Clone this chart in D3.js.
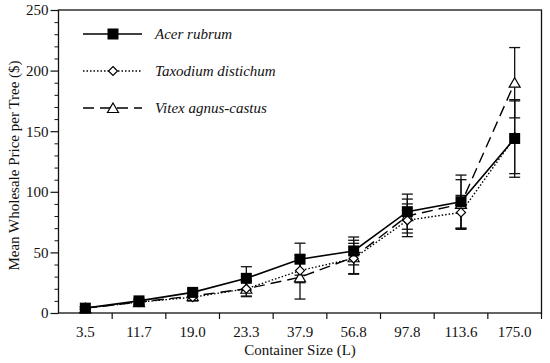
<!DOCTYPE html>
<html><head><meta charset="utf-8">
<script src="https://cdn.jsdelivr.net/npm/d3@7"></script>
<style>body{margin:0;background:#fff}svg{display:block}text{font-family:"Liberation Serif","Times New Roman",serif;fill:#111}</style>
</head><body><svg id="c" width="550" height="363"></svg>
<script>
const categories = ["3.5","11.7","19.0","23.3","37.9","56.8","97.8","113.6","175.0"];
const seriesNames = ["Acer rubrum","Taxodium distichum","Vitex agnus-castus"];
const acerMean = [4, 10, 17, 28.6, 44.4, 51.2, 83.6, 91.8, 144];
const acerErr  = [1, 2, 3, 9.6, 13.2, 11.5, 14.5, 22, 32];
const taxoMean = [4, 9, 13, 20, 35, 45, 76.5, 83, 145];
const taxoErr  = [1, 2, 3, 6, 10, 12.5, 13.5, 14, 30];
const vitexMean = [4, 9, 14, 20, 29.5, 46, 80, 90, 190];
const vitexErr  = [1, 2, 3, 6.5, 18, 14, 14, 20, 29];
const yTicks = [0,50,100,150,200,250];

const svg = d3.select("#c");
const L=58.5, R=541.5, T=10, B=313;
const x = d3.scaleBand().domain(categories).range([L,R]).padding(0);
const y = d3.scaleLinear().domain([0,250]).range([B,T]);
const cx = c => x(c)+x.bandwidth()/2;

// frame
svg.append("rect").attr("x",L).attr("y",T).attr("width",R-L).attr("height",B-T)
  .attr("fill","none").attr("stroke","#111").attr("stroke-width",1.3);

// y axis
const yAx = svg.append("g").attr("transform",`translate(${L},0)`)
  .call(d3.axisLeft(y).tickValues(yTicks).tickSize(8).tickPadding(2));
yAx.select(".domain").remove();
yAx.selectAll("text").style("font-size","15px").attr("fill","#111");
yAx.selectAll("line").attr("stroke","#111").attr("stroke-width",1.2);
const yMinor = svg.append("g").attr("transform",`translate(${L},0)`)
  .call(d3.axisLeft(y).tickValues(d3.range(0,251,10).filter(v=>v%50)).tickSize(4).tickFormat(""));
yMinor.select(".domain").remove();
yMinor.selectAll("line").attr("stroke","#111").attr("stroke-width",1);

// x axis: ticks at category boundaries
const xAx = svg.append("g").attr("transform",`translate(0,${B})`);
const bounds = categories.map(c=>x(c)).slice(1).concat([R]);
xAx.selectAll("line").data(bounds).join("line")
  .attr("x1",d=>d).attr("x2",d=>d).attr("y1",0).attr("y2",6)
  .attr("stroke","#111").attr("stroke-width",1.2);
xAx.selectAll("text").data(categories).join("text")
  .attr("x",d=>cx(d)).attr("y",24).attr("text-anchor","middle")
  .style("font-size","15px").text(d=>d);

// titles
svg.append("text").attr("x",(L+R)/2).attr("y",355).attr("text-anchor","middle")
  .style("font-size","15px").text("Container Size (L)");
svg.append("text").attr("transform",`translate(19,${(T+B)/2+4}) rotate(-90)`)
  .attr("text-anchor","middle").style("font-size","15px").text("Mean Wholesale Price per Tree ($)");

const series = [
  {name:seriesNames[0], mean:acerMean, err:acerErr, dash:null, sym:"square"},
  {name:seriesNames[1], mean:taxoMean, err:taxoErr, dash:"1.5,2", sym:"diamond"},
  {name:seriesNames[2], mean:vitexMean, err:vitexErr, dash:"11,6", sym:"triangle"}
];

function marker(g, sym, px, py){
  if(sym==="square") g.append("rect").attr("x",px-5.5).attr("y",py-5.5).attr("width",11).attr("height",11).attr("fill","#000");
  else if(sym==="diamond") g.append("path").attr("d",`M${px},${py-4.5}L${px+4.5},${py}L${px},${py+4.5}L${px-4.5},${py}Z`).attr("fill","#fff").attr("stroke","#000").attr("stroke-width",1.2);
  else g.append("path").attr("d",`M${px},${py-5}L${px+5.5},${py+4.5}L${px-5.5},${py+4.5}Z`).attr("fill","#fff").attr("stroke","#000").attr("stroke-width",1.2);
}

const line = d3.line().x((d,i)=>cx(categories[i])).y(d=>y(d));
// error bars
series.forEach(s=>{
  const g = svg.append("g");
  s.mean.forEach((m,i)=>{
    const px=cx(categories[i]), hi=y(m+s.err[i]), lo=y(m-s.err[i]);
    g.append("line").attr("x1",px).attr("x2",px).attr("y1",hi).attr("y2",lo).attr("stroke","#111").attr("stroke-width",1.3);
    [hi,lo].forEach(v=>g.append("line").attr("x1",px-5.5).attr("x2",px+5.5).attr("y1",v).attr("y2",v).attr("stroke","#111").attr("stroke-width",1.3));
  });
});
// lines
series.forEach(s=>{
  svg.append("path").attr("d",line(s.mean)).attr("fill","none").attr("stroke","#000")
    .attr("stroke-width",s.sym==="square"?1.6:1.4).attr("stroke-dasharray",s.dash);
});
// markers (draw vitex, taxodium first, acer on top)
[2,1,0].forEach(k=>{
  const s=series[k]; const g=svg.append("g");
  s.mean.forEach((m,i)=>marker(g,s.sym,cx(categories[i]),y(m)));
});

// legend
const lg = svg.append("g");
series.forEach((s,i)=>{
  const ly = 34 + i*37;
  lg.append("line").attr("x1",83).attr("x2",142).attr("y1",ly).attr("y2",ly)
    .attr("stroke","#000").attr("stroke-width",s.sym==="square"?1.6:1.4).attr("stroke-dasharray",s.dash);
  marker(lg,s.sym,113,ly);
  lg.append("text").attr("x",155).attr("y",ly+5).style("font-size","15px").style("font-style","italic").text(s.name);
});
</script></body></html>
